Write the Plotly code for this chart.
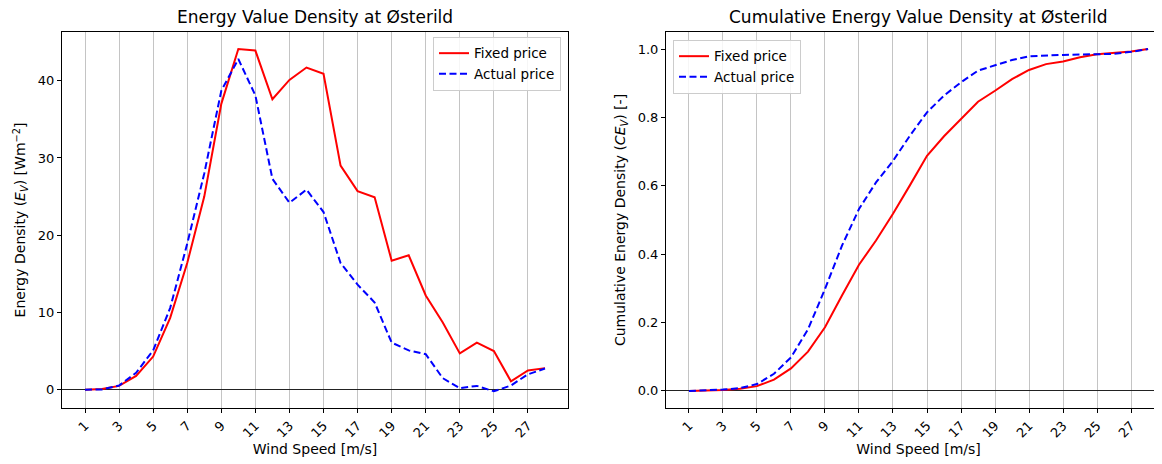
import plotly.graph_objects as go

wind_speed = list(range(1, 29))
tick_vals = list(range(1, 28, 2))
tick_text = [str(v) for v in tick_vals]

ev_fixed = [0.0, 0.1, 0.5, 1.8, 4.3, 9.3, 16.4, 25.0, 37.0, 44.1, 43.9, 37.6, 40.1, 41.7,
            40.9, 29.0, 25.7, 24.9, 16.7, 17.4, 12.2, 8.7, 4.7, 6.1, 5.0, 1.1, 2.5, 2.8]
ev_actual = [0.0, 0.05, 0.55, 2.2, 5.1, 10.6, 18.9, 28.0, 38.7, 42.8, 38.1, 27.3, 24.2, 25.9,
             23.0, 16.4, 13.6, 11.3, 6.1, 5.1, 4.6, 1.5, 0.2, 0.5, -0.2, 0.55, 2.0, 2.75]

cev_fixed = [0.0, 0.001, 0.003, 0.006, 0.014, 0.033, 0.066, 0.115, 0.186, 0.279, 0.369, 0.44,
             0.518, 0.602, 0.688, 0.745, 0.795, 0.846, 0.878, 0.912, 0.939, 0.956, 0.964,
             0.976, 0.985, 0.988, 0.993, 1.0]
cev_actual = [0.0, 0.001, 0.004, 0.008, 0.02, 0.05, 0.098, 0.18, 0.298, 0.425, 0.532, 0.61,
              0.673, 0.747, 0.815, 0.864, 0.903, 0.937, 0.953, 0.968, 0.979, 0.982, 0.983,
              0.984, 0.985, 0.986, 0.992, 1.0]

FONT = "DejaVu Sans"
OFF = 8            # default page margin of the HTML body
W, H = 1163, 456   # figure spans page pixels 8..1171 (right edge clipped like the reference)


def px(sx):
    return (sx - OFF) / W


fig = go.Figure()

red = dict(color="#ff0000", width=2)
blue = dict(color="#0000ff", width=2, dash="7px,3.5px")

fig.add_trace(go.Scatter(x=wind_speed, y=ev_fixed, mode="lines", name="Fixed price",
                         line=red, xaxis="x", yaxis="y", legend="legend"))
fig.add_trace(go.Scatter(x=wind_speed, y=ev_actual, mode="lines", name="Actual price",
                         line=blue, xaxis="x", yaxis="y", legend="legend"))
fig.add_trace(go.Scatter(x=wind_speed, y=cev_fixed, mode="lines", name="Fixed price",
                         line=red, xaxis="x2", yaxis="y2", legend="legend2"))
fig.add_trace(go.Scatter(x=wind_speed, y=cev_actual, mode="lines", name="Actual price",
                         line=blue, xaxis="x2", yaxis="y2", legend="legend2"))

xcommon = dict(range=[-0.35, 29.35], tickmode="array", tickvals=tick_vals, ticktext=tick_text,
               tickangle=-45, showgrid=True, gridcolor="#c4c4c4", gridwidth=1,
               zeroline=False, showline=True, linecolor="black", linewidth=1, mirror=True,
               ticks="outside", ticklen=4, tickcolor="black", automargin=False,
               tickfont=dict(family=FONT, size=13, color="black"),
               title=dict(text="Wind Speed [m/s]", font=dict(family=FONT, size=14, color="black"),
                          standoff=2))
ycommon = dict(showgrid=False, zeroline=True, zerolinecolor="#222222", zerolinewidth=1,
               showline=True, linecolor="black", linewidth=1, mirror=True,
               ticks="outside", ticklen=4, tickcolor="black", automargin=False,
               tickfont=dict(family=FONT, size=13, color="black"))

L1 = [px(62), px(568)]
L2 = [px(666), px(1171)]

fig.update_layout(
    width=W, height=H,
    margin=dict(l=0, r=0, t=32 - OFF, b=56, autoexpand=False),
    plot_bgcolor="white", paper_bgcolor="white",
    font=dict(family=FONT, color="black"),
    xaxis=dict(domain=L1, anchor="y", **xcommon),
    yaxis=dict(domain=[0, 1], anchor="x", range=[-2.36, 46.3], tickvals=[0, 10, 20, 30, 40],
               title=dict(text="Energy Density (<i>E<sub>V</sub></i>) [Wm<sup>−2</sup>]",
                          font=dict(family=FONT, size=14, color="black"), standoff=8),
               **ycommon),
    xaxis2=dict(domain=L2, anchor="y2", **xcommon),
    yaxis2=dict(domain=[0, 1], anchor="x2", range=[-0.05, 1.05],
                tickvals=[0, 0.2, 0.4, 0.6, 0.8, 1.0], tickformat=".1f",
                title=dict(text="Cumulative Energy Density (<i>CE<sub>V</sub></i>) [-]",
                           font=dict(family=FONT, size=14, color="black"), standoff=8),
                **ycommon),
    legend=dict(x=px(561), y=0.987, xanchor="right", yanchor="top",
                bgcolor="rgba(255,255,255,0.85)", bordercolor="#cccccc", borderwidth=1,
                font=dict(family=FONT, size=13.5, color="black"), tracegroupgap=0,
                itemwidth=30),
    legend2=dict(x=px(673), y=0.979, xanchor="left", yanchor="top",
                 bgcolor="rgba(255,255,255,0.85)", bordercolor="#cccccc", borderwidth=1,
                 font=dict(family=FONT, size=13.5, color="black"), tracegroupgap=0,
                 itemwidth=30),
    showlegend=True,
    annotations=[
        dict(text="Energy Value Density at Østerild", x=(L1[0] + L1[1]) / 2, y=1,
             xref="paper", yref="paper", xanchor="center", yanchor="bottom", yshift=3,
             showarrow=False, font=dict(family=FONT, size=17, color="black")),
        dict(text="Cumulative Energy Value Density at Østerild", x=(L2[0] + L2[1]) / 2, y=1,
             xref="paper", yref="paper", xanchor="center", yanchor="bottom", yshift=3,
             showarrow=False, font=dict(family=FONT, size=17, color="black")),
    ],
)

fig.write_html("out.html")
